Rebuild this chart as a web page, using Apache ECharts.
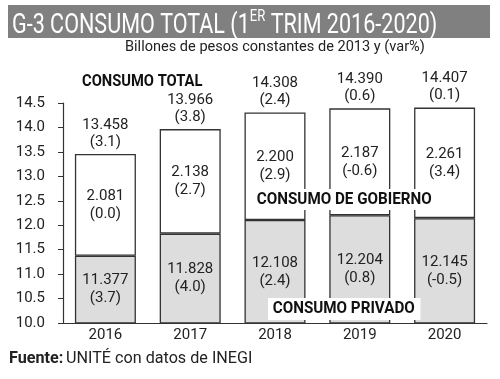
<!DOCTYPE html>
<html><head><meta charset="utf-8">
<script src="https://cdn.jsdelivr.net/npm/echarts@6/dist/echarts.min.js"></script>
<style>html,body{margin:0;padding:0;background:#fff}#c{width:500px;height:379px}</style>
</head><body><div id="c"></div>
<script>
const years = ['2016','2017','2018','2019','2020'];
const privado = [11.377, 11.828, 12.108, 12.204, 12.145];
const privadoVar = [3.7, 4.0, 2.4, 0.8, -0.5];
const gobierno = [2.081, 2.138, 2.200, 2.187, 2.261];
const gobiernoVar = [0.0, 2.7, 2.9, -0.6, 3.4];
const total = [13.458, 13.966, 14.308, 14.390, 14.407];
const totalVar = [3.1, 3.8, 2.4, 0.6, 0.1];
const yTicks = [10.0, 10.5, 11.0, 11.5, 12.0, 12.5, 13.0, 13.5, 14.0, 14.5];

const FONT = "Roboto, 'DejaVu Sans Condensed', sans-serif";
const lab = (vals, vars) => p => vals[p.dataIndex].toFixed(3) + '\n(' + vars[p.dataIndex].toFixed(1) + ')';

function txt(x, y, sx, style, z) {
  return { type: 'text', x: x, y: y, scaleX: sx, z: z || 50, style: Object.assign({ fontFamily: FONT, fill: '#222', verticalAlign: 'top' }, style) };
}

const chart = echarts.init(document.getElementById('c'));
chart.setOption({
  animation: false,
  textStyle: { fontFamily: FONT },
  grid: { left: 63, right: 13, top: 103, bottom: 56 },
  xAxis: {
    type: 'category', data: years,
    axisLine: { lineStyle: { color: '#333', width: 1.2 } },
    axisTick: { show: false },
    axisLabel: { color: '#222', fontSize: 15, fontFamily: FONT, margin: 5 }
  },
  yAxis: {
    type: 'value', min: yTicks[0], max: yTicks[yTicks.length - 1], interval: 0.5,
    splitLine: { show: false },
    axisLine: { show: true, lineStyle: { color: '#333', width: 1.2 } },
    axisTick: { show: true, length: 5, lineStyle: { color: '#333' } },
    axisLabel: { color: '#222', fontSize: 15, fontFamily: FONT, margin: 18, formatter: v => v.toFixed(1) }
  },
  series: [
    {
      type: 'bar', stack: 's', data: privado, barWidth: 61,
      itemStyle: { color: '#dddddd', borderColor: '#333', borderWidth: 1.3 },
      label: { show: true, position: 'inside', color: '#222', fontSize: 15, lineHeight: 18, fontFamily: FONT, formatter: lab(privado, privadoVar) }
    },
    {
      type: 'bar', stack: 's', data: gobierno, barWidth: 61,
      itemStyle: { color: '#ffffff', borderColor: '#333', borderWidth: 1.3 },
      label: { show: true, position: 'inside', color: '#222', fontSize: 15, lineHeight: 18, fontFamily: FONT, formatter: lab(gobierno, gobiernoVar) }
    },
    {
      type: 'scatter', data: total, symbolSize: 1, itemStyle: { color: 'rgba(0,0,0,0)', opacity: 1 },
      label: { show: true, position: 'top', distance: 3, color: '#222', fontSize: 15, lineHeight: 17, fontFamily: FONT, formatter: lab(total, totalVar) }
    }
  ],
  graphic: [
    { type: 'rect', shape: { x: 8, y: 5, width: 482, height: 33 }, style: { fill: '#808080' } },
    txt(12, 2, 0.77, {
        text: '{a|G-3 CONSUMO TOTAL (1}{b|ER}{a| TRIM 2016-2020)}',
        rich: {
          a: { fontFamily: FONT, fontSize: 28, fill: '#fff', verticalAlign: 'bottom', height: 30 },
          b: { fontFamily: FONT, fontSize: 17, fill: '#fff', verticalAlign: 'top', height: 30, padding: [0,0,9,0] }
        }
      }),
    txt(125, 40, 0.97, { text: 'Billones de pesos constantes de 2013 y (var%)', fontSize: 15 }),
    txt(82, 74, 0.92, { text: 'CONSUMO TOTAL', fontWeight: 'bold', fontSize: 16, fill: '#111' }),
    txt(254, 189, 0.95, { text: 'CONSUMO DE GOBIERNO', fontWeight: 'bold', fontSize: 16, fill: '#111', backgroundColor: '#fff', padding: [3, 3, 2, 3] }, 100),
    txt(268, 298, 0.95, { text: 'CONSUMO PRIVADO', fontWeight: 'bold', fontSize: 16, fill: '#111', backgroundColor: '#fff', padding: [3, 6, 3, 5] }, 100),
    txt(9, 350, 0.95, {
        text: '{b|Fuente:} {n|UNITÉ con datos de INEGI}',
        rich: {
          b: { fontFamily: FONT, fontWeight: 'bold', fontSize: 17, fill: '#222' },
          n: { fontFamily: FONT, fontSize: 17, fill: '#222' }
        }
      })
  ]
});
</script></body></html>
